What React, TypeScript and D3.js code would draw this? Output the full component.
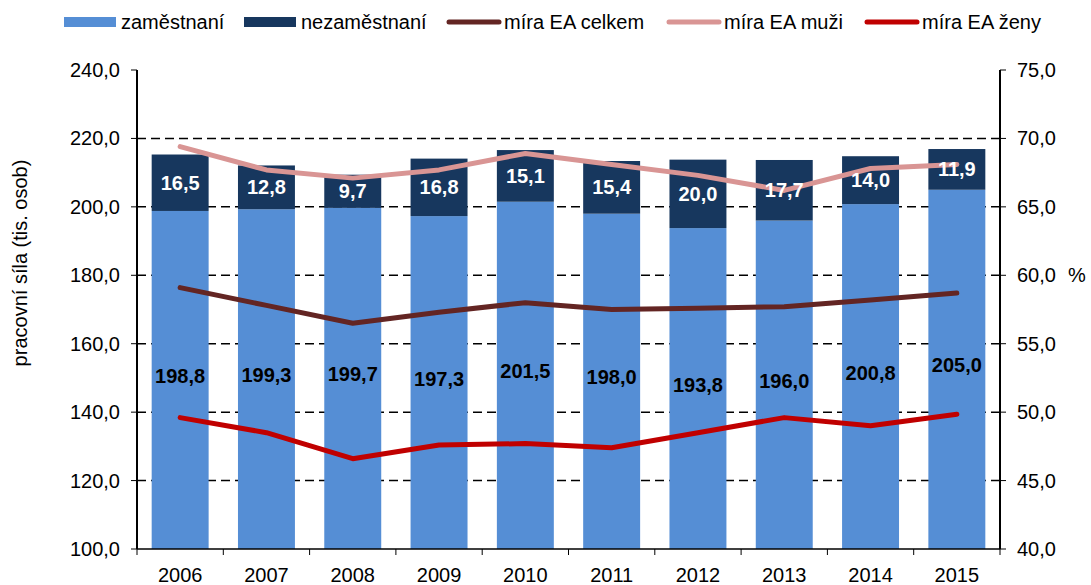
import React from "react";
import * as d3 from "d3";

const years = ["2006","2007","2008","2009","2010","2011","2012","2013","2014","2015"];
const employed = [198.8,199.3,199.7,197.3,201.5,198.0,193.8,196.0,200.8,205.0];
const unemployed = [16.5,12.8,9.7,16.8,15.1,15.4,20.0,17.7,14.0,11.9];
const rateTotal = [59.1,57.8,56.5,57.3,58.0,57.5,57.6,57.7,58.2,58.7];
const rateMen = [69.4,67.7,67.1,67.7,68.9,68.1,67.3,66.2,67.8,68.1];
const rateWomen = [49.6,48.5,46.6,47.6,47.7,47.4,48.5,49.6,49.0,49.85];
const leftTicks = [100,120,140,160,180,200,220,240];
const rightTicks = [40,45,50,55,60,65,70,75];

const fmt = (v: number) => v.toFixed(1).replace(".", ",");

export default function App() {
  const W = 1091, H = 585;
  const x0 = 137, x1 = 1000, yTop = 70, yBot = 549;
  const x = d3.scaleBand<string>().domain(years).range([x0, x1]).paddingInner(0.34).paddingOuter(0.17);
  const xc = (i: number) => (x(years[i]) as number) + x.bandwidth() / 2;
  const y = d3.scaleLinear().domain([100, 240]).range([yBot, yTop]);
  const y2 = d3.scaleLinear().domain([40, 75]).range([yBot, yTop]);
  const line = d3.line<number>().x((_, i) => xc(i)).y(d => y2(d));
  const step = (x1 - x0) / years.length;
  const font = "'Liberation Sans', Arial, sans-serif";
  const fs = 20;

  const legend = [
    { type: "rect", color: "#558ED5", label: "zaměstnaní", x: 64 },
    { type: "rect", color: "#17375E", label: "nezaměstnaní", x: 244 },
    { type: "line", color: "#632523", label: "míra EA celkem", x: 447 },
    { type: "line", color: "#D99594", label: "míra EA muži", x: 667 },
    { type: "line", color: "#C00000", label: "míra EA ženy", x: 865 },
  ];

  return (
    <svg width={W} height={H} style={{ position: "absolute", left: 0, top: 0, background: "#fff" }} fontFamily={font}>
      {/* legend */}
      {legend.map((l, i) => (
        <g key={i}>
          {l.type === "rect" ? (
            <rect x={l.x} y={17} width={52} height={10} fill={l.color} />
          ) : (
            <line x1={l.x + 2} x2={l.x + 52} y1={22} y2={22} stroke={l.color} strokeWidth={5} strokeLinecap="round" />
          )}
          <text x={l.x + 57} y={29} fontSize={fs} fill="#000">{l.label}</text>
        </g>
      ))}

      {/* gridlines */}
      {leftTicks.filter(t => t > 100 && t < 240).map(t => (
        <line key={t} x1={x0} x2={x1} y1={y(t)} y2={y(t)} stroke="#000" strokeWidth={1.5} strokeDasharray="9,5" />
      ))}

      {/* bars */}
      {years.map((yr, i) => {
        const bx = x(yr) as number;
        const bw = x.bandwidth();
        const e = employed[i], u = unemployed[i];
        return (
          <g key={yr}>
            <rect x={bx} y={y(e)} width={bw} height={y(100) - y(e)} fill="#558ED5" />
            <rect x={bx} y={y(e + u)} width={bw} height={y(e) - y(e + u)} fill="#17375E" />
          </g>
        );
      })}

      {/* lines */}
      <path d={line(rateMen) || ""} fill="none" stroke="#D99594" strokeWidth={5} strokeLinecap="round" strokeLinejoin="round" />
      <path d={line(rateTotal) || ""} fill="none" stroke="#632523" strokeWidth={5} strokeLinecap="round" strokeLinejoin="round" />
      <path d={line(rateWomen) || ""} fill="none" stroke="#C00000" strokeWidth={5} strokeLinecap="round" strokeLinejoin="round" />

      {/* labels */}
      {years.map((yr, i) => {
        const e = employed[i], u = unemployed[i];
        return (
          <g key={"l" + yr} textAnchor="middle" fontWeight="bold" fontSize={fs}>
            <text x={xc(i)} y={(y(e) + y(e + u)) / 2 + 7} fill="#fff">{fmt(u)}</text>
            <text x={xc(i)} y={(y(e) + y(100)) / 2 + 3} fill="#000">{fmt(e)}</text>
          </g>
        );
      })}

      {/* axes */}
      <line x1={x0} x2={x0} y1={yTop} y2={yBot} stroke="#000" strokeWidth={2} />
      <line x1={x1} x2={x1} y1={yTop} y2={yBot} stroke="#000" strokeWidth={2} />
      <line x1={x0} x2={x1} y1={yBot} y2={yBot} stroke="#000" strokeWidth={1.5} />
      {leftTicks.map(t => (
        <g key={"lt" + t}>
          <line x1={x0 - 6} x2={x0} y1={y(t)} y2={y(t)} stroke="#000" strokeWidth={1} />
          <text x={x0 - 17} y={y(t) + 7} textAnchor="end" fontSize={fs} fill="#000">{fmt(t)}</text>
        </g>
      ))}
      {rightTicks.map(t => (
        <g key={"rt" + t}>
          <line x1={x1} x2={x1 + 6} y1={y2(t)} y2={y2(t)} stroke="#000" strokeWidth={1} />
          <text x={x1 + 17} y={y2(t) + 7} textAnchor="start" fontSize={fs} fill="#000">{fmt(t)}</text>
        </g>
      ))}
      {d3.range(years.length + 1).map(i => (
        <line key={"bt" + i} x1={x0 + i * step} x2={x0 + i * step} y1={yBot} y2={yBot + 6} stroke="#000" strokeWidth={1} />
      ))}
      {years.map((yr, i) => (
        <text key={"yl" + yr} x={xc(i)} y={582} textAnchor="middle" fontSize={fs} fill="#000">{yr}</text>
      ))}
      <text transform={`translate(27,263) rotate(-90)`} textAnchor="middle" fontSize={fs} fill="#000">pracovní síla  (tis. osob)</text>
      <text x={1068} y={282} fontSize={fs} fill="#000">%</text>
    </svg>
  );
}
